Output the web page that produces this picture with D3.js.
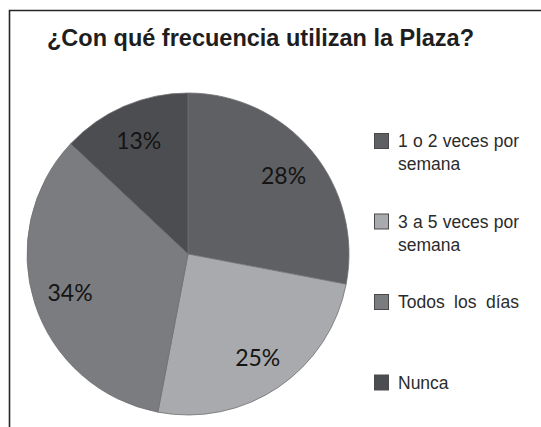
<!DOCTYPE html><html>
    <head>
        <meta charset="utf-8">
        <script src="https://cdnjs.cloudflare.com/ajax/libs/d3/7.8.5/d3.min.js"></script>
        <style>
          body { margin: 0; background: #ffffff; }
        </style>
    </head>
    <body>
        <svg id="chart" width="541" height="427"></svg>
        <script>
            // chart data
            var categories = ["1 o 2 veces por semana", "3 a 5 veces por semana", "Todos los días", "Nunca"];
            var values = [28, 25, 34, 13];
            var legendLines = [["1 o 2 veces por", "semana"], ["3 a 5 veces por", "semana"], ["Todos los días"], ["Nunca"]];
            var sliceColors = ["#5f6064", "#a9aaad", "#7b7c80", "#4c4d51"];
            var title = "¿Con qué frecuencia utilizan la Plaza?";

            var svg = d3.select("#chart");

            // frame (only top and left edges are visible)
            svg.append("path").attr("d", "M9.5,427 L9.5,10.5 L541,10.5")
                .attr("fill", "none").attr("stroke", "#262626").attr("stroke-width", 1.6);

            svg.append("text").attr("x", 47).attr("y", 46)
                .attr("font-family", "'Liberation Sans', Arial, sans-serif")
                .attr("font-weight", "bold").attr("font-size", 23.5)
                .attr("fill", "#1e1e1e").text(title);

            // pie
            var cx = 188, cy = 254, radius = 161;
            var pie = d3.pie().sort(null).value(function(d) { return d; });
            var arcs = pie(values);
            var arc = d3.arc().innerRadius(0).outerRadius(radius);
            var labelArc = d3.arc().innerRadius(124).outerRadius(124);
            var total = d3.sum(values);

            var g = svg.append("g").attr("transform", "translate(" + cx + "," + cy + ")");
            g.selectAll("path.slice").data(arcs).enter().append("path")
                .attr("class", "slice")
                .attr("d", arc)
                .attr("fill", function(d, i) { return sliceColors[i]; })
                .attr("stroke", "#707070")
                .attr("stroke-width", 0.8);

            g.selectAll("text.pct").data(arcs).enter().append("text")
                .attr("class", "pct")
                .attr("transform", function(d) { return "translate(" + labelArc.centroid(d) + ")"; })
                .attr("text-anchor", "middle")
                .attr("dominant-baseline", "central")
                .attr("font-family", "Lato, 'Open Sans', sans-serif")
                .attr("font-size", 23)
                .attr("fill", "#141414")
                .text(function(d) { return Math.round(d.value / total * 100) + "%"; });

            // legend
            var legendX = 374, legendTop = 141, legendStep = 80.5, lineH = 23, justifyW = 121;
            var legend = svg.append("g");
            legendLines.forEach(function(lines, i) {
                var y = legendTop + i * legendStep;
                legend.append("rect")
                    .attr("x", legendX + 0.5).attr("y", y - 7.5)
                    .attr("width", 14).attr("height", 15)
                    .attr("fill", sliceColors[i])
                    .attr("stroke", "#4a4a4a").attr("stroke-width", 1);
                lines.forEach(function(line, j) {
                    var t = legend.append("text")
                        .attr("x", 398).attr("y", y + j * lineH)
                        .attr("dominant-baseline", "central")
                        .attr("font-family", "'Liberation Sans', Arial, sans-serif")
                        .attr("font-size", 17.5)
                        .attr("fill", "#2b2b2b")
                        .text(line);
                    // justify the long lines to the legend width
                    var spaces = line.split(" ").length - 1;
                    if (line.length > 10 && spaces > 0) {
                        var w = t.node().getComputedTextLength();
                        t.attr("word-spacing", Math.max(0, (justifyW - w) / spaces));
                    }
                });
            });
        </script>
    </body>
</html>
